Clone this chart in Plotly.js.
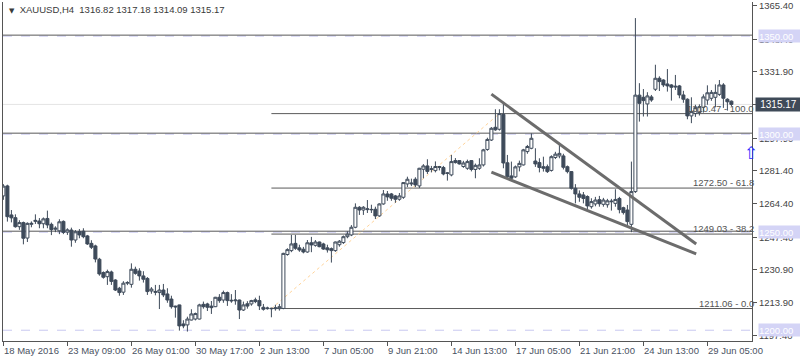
<!DOCTYPE html>
<html>
<head>
<meta charset="utf-8">
<script src="https://cdn.plot.ly/plotly-3.0.1.min.js"></script>
<style>html,body{margin:0;padding:0;background:#fff;}#chart{width:800px;height:360px;}</style>
</head>
<body>
<div id="chart"></div>
<script>
// ---- data (XAUUSD, H4) ----
var openP = [1268.5,1273.6,1258.8,1257.4,1252.8,1254.9,1247.0,1254.0,1255.5,1255.7,1254.3,1257.0,1254.0,1251.5,1250.7,1255.5,1250.0,1251.1,1246.0,1250.3,
1250.5,1248.1,1244.3,1243.0,1236.2,1229.4,1227.3,1229.7,1225.6,1221.4,1219.4,1224.0,1223.4,1231.1,1230.2,1227.7,1226.4,1220.0,1219.8,1219.2,
1220.5,1218.5,1215.9,1212.3,1212.9,1203.2,1202.7,1205.2,1205.7,1205.7,1213.2,1213.4,1212.3,1212.0,1216.8,1215.4,1219.2,1215.3,1215.0,1215.4,
1210.3,1213.5,1213.4,1215.5,1215.1,1211.7,1211.0,1211.2,1211.0,1211.0,1211.1,1238.6,1240.6,1244.3,1242.0,1241.3,1239.9,1244.6,1243.3,1245.0,
1244.0,1242.0,1241.6,1240.6,1243.6,1244.7,1247.7,1248.6,1252.5,1262.7,1261.3,1261.5,1261.4,1261.7,1258.3,1264.4,1269.5,1269.5,1268.5,1266.8,
1267.8,1274.6,1274.6,1277.0,1273.6,1282.1,1283.8,1282.0,1281.4,1283.5,1283.0,1280.0,1279.2,1286.5,1286.5,1283.5,1282.6,1286.5,1282.0,1282.6,
1284.3,1292.2,1297.0,1303.5,1302.5,1310.1,1285.4,1278.7,1278.2,1283.3,1284.3,1291.1,1292.8,1286.3,1285.5,1283.4,1283.4,1281.5,1288.1,1288.9,
1288.9,1283.4,1280.9,1272.4,1269.5,1269.0,1268.2,1263.0,1264.4,1266.6,1264.2,1264.0,1265.5,1264.7,1267.2,1262.5,1261.3,1254.0,1270.7,1319.9,
1318.8,1315.4,1319.0,1322.9,1328.5,1327.6,1325.6,1325.1,1324.0,1324.6,1320.0,1317.8,1309.3,1310.5,1311.0,1313.7,1317.4,1318.3,1318.8,1320.3,
1325.1,1317.8,1316.82];
var highP = [1274.5,1274.2,1261.3,1259.1,1256.1,1255.4,1255.0,1255.5,1259.1,1257.2,1257.5,1261.0,1254.9,1253.0,1256.6,1256.0,1252.0,1252.3,1251.1,1251.6,
1252.0,1248.6,1245.9,1243.6,1236.9,1230.0,1230.9,1230.4,1226.0,1222.1,1225.0,1225.0,1234.1,1232.4,1231.6,1230.1,1227.1,1222.0,1223.1,1223.1,
1223.6,1221.4,1217.6,1212.5,1213.0,1205.1,1206.9,1210.7,1209.0,1213.5,1214.6,1214.0,1214.9,1217.0,1218.4,1220.2,1219.7,1218.4,1220.5,1215.6,
1214.6,1214.8,1215.5,1216.6,1217.6,1213.4,1212.0,1211.5,1213.0,1213.4,1239.5,1241.8,1248.6,1248.6,1243.6,1242.5,1246.0,1247.6,1246.0,1245.2,
1244.6,1243.6,1242.2,1245.2,1246.0,1248.3,1250.5,1253.6,1264.7,1263.3,1263.3,1266.4,1264.0,1263.0,1264.7,1271.5,1271.0,1270.0,1269.0,1270.0,
1275.5,1278.3,1277.3,1278.0,1282.8,1284.7,1287.2,1283.8,1286.1,1283.8,1283.8,1280.6,1289.4,1287.8,1286.6,1286.4,1287.0,1286.8,1285.0,1287.7,
1292.5,1298.2,1303.6,1312.7,1312.7,1316.4,1289.4,1286.0,1284.0,1286.5,1292.5,1294.5,1300.4,1292.8,1287.7,1288.5,1284.5,1289.2,1291.0,1295.3,
1290.0,1284.0,1281.2,1274.5,1271.3,1270.5,1268.8,1267.3,1268.0,1268.5,1267.5,1267.0,1267.0,1271.9,1268.0,1263.0,1263.9,1286.0,1359.2,1326.0,
1323.0,1321.4,1320.0,1335.4,1329.5,1328.0,1333.2,1325.5,1330.2,1325.1,1322.1,1318.3,1318.8,1315.0,1315.2,1320.3,1324.9,1322.5,1325.4,1327.6,
1326.0,1318.3,1317.18];
var lowP = [1266.5,1255.4,1255.0,1252.3,1251.2,1243.8,1245.0,1252.5,1254.2,1252.0,1252.0,1252.0,1248.5,1250.0,1249.0,1249.0,1248.6,1242.6,1244.6,1246.9,
1246.9,1243.5,1241.4,1234.6,1227.8,1226.3,1223.1,1223.1,1220.0,1217.6,1218.0,1223.0,1221.7,1228.3,1225.3,1224.3,1218.0,1218.6,1217.8,1210.8,
1216.9,1214.0,1211.0,1206.4,1199.8,1201.0,1199.3,1205.0,1205.0,1205.5,1211.0,1209.8,1208.3,1211.8,1214.0,1214.0,1212.4,1214.0,1213.0,1205.7,
1209.8,1211.0,1212.5,1213.8,1210.3,1210.0,1210.5,1206.6,1210.0,1210.0,1210.7,1238.0,1239.8,1241.0,1240.0,1239.2,1239.5,1239.8,1242.6,1242.3,
1241.0,1239.6,1234.5,1240.0,1242.6,1244.0,1246.9,1248.0,1252.0,1258.8,1258.8,1259.8,1259.8,1256.7,1257.8,1264.0,1266.0,1266.0,1265.0,1266.0,
1267.0,1273.0,1273.5,1273.0,1272.5,1277.5,1279.7,1280.5,1280.5,1281.5,1279.0,1276.3,1278.5,1285.0,1284.5,1282.8,1281.8,1281.0,1277.5,1281.8,
1283.5,1291.5,1296.5,1301.7,1301.8,1282.6,1277.1,1277.0,1277.7,1281.0,1284.0,1290.0,1292.3,1283.3,1280.5,1280.9,1280.2,1280.9,1287.3,1287.7,
1282.0,1280.0,1271.7,1264.7,1265.5,1264.7,1261.3,1262.0,1263.2,1263.0,1263.0,1262.5,1261.0,1263.0,1259.6,1259.0,1253.5,1250.0,1270.0,1306.4,
1309.0,1309.0,1316.5,1322.0,1322.0,1324.0,1321.7,1317.1,1322.5,1318.3,1316.0,1307.6,1305.6,1308.8,1309.5,1311.0,1315.0,1317.0,1313.7,1319.5,
1313.4,1312.0,1314.09];
var closeP = [1273.5,1257.9,1257.3,1252.8,1254.9,1246.9,1254.5,1254.5,1256.0,1254.3,1256.8,1253.7,1251.3,1252.0,1255.3,1249.9,1251.2,1246.0,1250.2,1248.6,
1247.7,1244.0,1242.3,1236.3,1228.7,1227.0,1229.9,1224.9,1220.5,1219.2,1224.0,1224.3,1231.1,1229.0,1227.7,1226.0,1219.7,1221.0,1219.4,1220.5,
1218.0,1215.4,1212.0,1211.9,1202.2,1202.2,1205.7,1208.3,1208.5,1212.9,1212.0,1211.7,1211.5,1216.8,1215.1,1219.2,1215.1,1215.0,1215.4,1210.3,
1212.9,1212.3,1215.1,1214.6,1212.4,1210.7,1211.3,1211.0,1211.4,1212.0,1239.2,1241.1,1244.0,1241.8,1240.9,1239.9,1244.6,1243.5,1245.0,1242.6,
1241.4,1241.0,1240.6,1245.0,1245.4,1247.7,1249.0,1252.5,1262.7,1261.3,1262.7,1261.9,1261.6,1258.3,1264.4,1269.5,1268.0,1267.3,1266.8,1268.5,
1275.3,1277.0,1275.0,1274.1,1282.6,1283.8,1281.0,1282.3,1283.5,1283.1,1279.7,1280.2,1286.0,1285.5,1284.8,1285.3,1286.0,1282.0,1284.1,1284.3,
1292.0,1297.3,1303.0,1302.2,1310.47,1285.3,1278.3,1277.5,1283.3,1285.1,1292.0,1293.7,1297.9,1284.8,1283.0,1282.6,1280.9,1288.5,1289.8,1290.2,
1283.1,1280.9,1272.4,1269.5,1267.8,1267.2,1263.4,1265.6,1266.4,1264.5,1266.4,1266.0,1265.8,1266.7,1261.5,1260.0,1255.4,1270.7,1319.9,1315.7,
1317.1,1319.5,1317.4,1328.5,1326.8,1325.1,1324.6,1323.9,1324.4,1320.0,1317.8,1309.3,1311.5,1313.5,1314.0,1319.0,1321.1,1321.3,1321.3,1325.1,
1318.3,1316.5,1315.17];

var tickBars   = [0,16,32,48,64,80,96,112,128,144,160,176];
var tickLabels = ["18 May 2016","23 May 09:00","26 May 01:00","30 May 17:00","2 Jun 13:00","7 Jun 05:00","9 Jun 21:00","14 Jun 13:00","17 Jun 05:00","21 Jun 21:00","24 Jun 13:00","29 Jun 05:00"];
var priceTicks = [1197.4,1213.9,1230.9,1247.4,1264.4,1281.4,1297.9,1314.9,1331.9,1348.4,1365.4];

var levelLines  = [1350.5,1300.5,1250.5];          // drawn horizontal lines
var alertLevels = [1350,1300,1250,1200];           // dashed alert levels
var lastPrice   = 1315.17;
var fibStartBar = 67;
var fibLevels   = [1310.47,1272.50,1249.03,1211.06];
var fibPct      = ["100.0","61.8","38.2","0.0"];
var fibTrendBars   = [67,124];
var fibTrendPrices = [1211.06,1310.47];
var wedgeBars        = [122,173.2];
var wedgeUpperPrices = [1320.4,1244.0];
var wedgeLowerPrices = [1280.6,1238.9];
var arrowBar = 187.0, arrowPrice = 1290.4;
var header = "XAUUSD,H4  1316.82 1317.18 1314.09 1315.17";

// ---- build ----
var FONT = "Liberation Sans, Arial, sans-serif";
var CANDLE = "#3e4a5a";
var xMax = 187.15;
var idx = openP.map(function(_, i){ return i; });

var trace = {
  type: 'candlestick', x: idx, open: openP, high: highP, low: lowP, close: closeP,
  increasing: {line: {color: CANDLE, width: 1}, fillcolor: '#ffffff'},
  decreasing: {line: {color: CANDLE, width: 1}, fillcolor: CANDLE},
  whiskerwidth: 0, hoverinfo: 'none', showlegend: false
};

var shapes = [];
shapes.push({type:'line', xref:'paper', x0:0, x1:1, yref:'y', y0:lastPrice, y1:lastPrice, line:{color:'#e4e4e4', width:1}, layer:'below'});
alertLevels.forEach(function(v){
  shapes.push({type:'line', xref:'paper', x0:0, x1:1, yref:'y', y0:v, y1:v, line:{color:'#c8c8f0', width:1, dash:'dash'}, layer:'below'});
});
levelLines.forEach(function(v){
  shapes.push({type:'line', xref:'paper', x0:0, x1:1, yref:'y', y0:v, y1:v, line:{color:'#585858', width:1}, layer:'below'});
});
fibLevels.forEach(function(v){
  shapes.push({type:'line', xref:'x', x0:fibStartBar, x1:xMax, yref:'y', y0:v, y1:v, line:{color:'#5a5a5a', width:1}, layer:'below'});
});
shapes.push({type:'line', xref:'x', yref:'y', x0:fibTrendBars[0], x1:fibTrendBars[1], y0:fibTrendPrices[0], y1:fibTrendPrices[1], line:{color:'#ffd49a', width:1, dash:'dot'}, layer:'below'});
shapes.push({type:'line', xref:'x', yref:'y', x0:wedgeBars[0], x1:wedgeBars[1], y0:wedgeUpperPrices[0], y1:wedgeUpperPrices[1], line:{color:'#6c6c6c', width:3}, layer:'above'});
shapes.push({type:'line', xref:'x', yref:'y', x0:wedgeBars[0], x1:wedgeBars[1], y0:wedgeLowerPrices[0], y1:wedgeLowerPrices[1], line:{color:'#6c6c6c', width:3}, layer:'above'});

var annotations = [];
// header
annotations.push({xref:'paper', yref:'paper', x:0.006, y:0.977, xanchor:'left', yanchor:'middle', showarrow:false,
  text:'<span style="font-family:DejaVu Sans;font-size:7px">▼</span>  ' + header, font:{family:FONT, size:9.5, color:'#3a3a3a'}});
// x tick labels (left-aligned at tick)
tickBars.forEach(function(b, i){
  annotations.push({xref:'x', yref:'paper', x:b, y:0, xanchor:'left', yanchor:'top', yshift:-2, xshift:-1, showarrow:false,
    text: tickLabels[i], font:{family:FONT, size:9.5, color:'#4a5262'}});
});
// fib labels
fibLevels.forEach(function(v, i){
  annotations.push({xref:'paper', yref:'y', x:1, y:v, xanchor:'right', yanchor:'bottom', xshift:4, yshift:-2, showarrow:false,
    text: v.toFixed(2) + ' - ' + fibPct[i], font:{family:FONT, size:9.5, color:'#555555'}});
});
// right price boxes
alertLevels.forEach(function(v){
  annotations.push({xref:'paper', yref:'y', x:1, y:v, xanchor:'left', yanchor:'middle', xshift:6, showarrow:false,
    text: v.toFixed(2), bgcolor:'#d4d4f6', borderpad:0, width:41, height:12, align:'left',
    font:{family:FONT, size:9.5, color:'#ffffff'}});
});
annotations.push({xref:'paper', yref:'y', x:1, y:lastPrice, xanchor:'left', yanchor:'middle', xshift:3, showarrow:false,
  text: lastPrice.toFixed(2), bgcolor:'#3f4a58', borderpad:0, width:45, height:13, align:'center',
  font:{family:FONT, size:10, color:'#ffffff'}});
// arrow
annotations.push({xref:'x', yref:'y', x:arrowBar, y:arrowPrice, xanchor:'center', yanchor:'middle', showarrow:false,
  text:'⇧', font:{family:'DejaVu Sans', size:17, color:'#2a2aff'}});

var layout = {
  width: 800, height: 360,
  margin: {l:3, r:48, t:2, b:19, pad:0},
  paper_bgcolor: '#ffffff', plot_bgcolor: '#ffffff',
  showlegend: false, dragmode: false, hovermode: false,
  boxgap: 0.2, boxgroupgap: 0.05,
  xaxis: {range:[-0.1, xMax], showgrid:false, zeroline:false, showline:true, linecolor:'#555555', linewidth:1,
    ticks:'outside', ticklen:4, tickcolor:'#555555', tickvals: tickBars, showticklabels:false,
    rangeslider:{visible:false}, fixedrange:true},
  yaxis: {side:'right', range:[1194.5, 1367.4], showgrid:false, zeroline:false, showline:true, mirror:true,
    linecolor:'#555555', linewidth:1, ticks:'outside', ticklen:4, tickcolor:'#555555',
    tickvals: priceTicks, ticktext: priceTicks.map(function(v){ return v.toFixed(2); }),
    tickfont:{family:FONT, size:9.5, color:'#444444'}, fixedrange:true},
  shapes: shapes,
  annotations: annotations
};

Plotly.newPlot('chart', [trace], layout, {displayModeBar:false, staticPlot:true});
</script>
</body>
</html>
